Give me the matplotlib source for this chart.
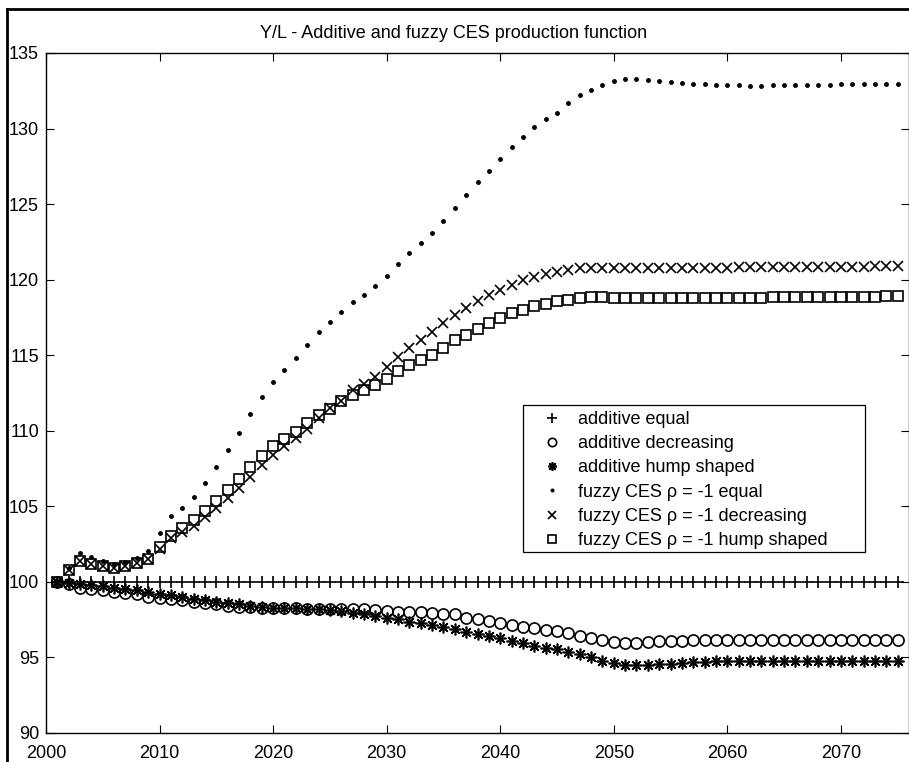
import numpy as np
import matplotlib
matplotlib.use("Agg")
import matplotlib.pyplot as plt
from matplotlib.lines import Line2D
from matplotlib.patches import Rectangle

plt.rcParams['font.family'] = ['Liberation Sans', 'DejaVu Sans']

years = list(range(2001, 2076))

# additive equal
add_equal = [100.0] * 75

# additive decreasing
add_decr = [100.0, 99.85, 99.62, 99.56, 99.45, 99.34, 99.29, 99.2, 99.03, 98.96,
            98.9, 98.8, 98.68, 98.59, 98.52, 98.41, 98.37, 98.34, 98.3, 98.3,
            98.26, 98.26, 98.23, 98.23, 98.23, 98.23, 98.19, 98.19, 98.15, 98.08,
            98.04, 98.04, 98.01, 97.97, 97.9, 97.86, 97.64, 97.53, 97.42, 97.31,
            97.15, 97.02, 96.93, 96.82, 96.75, 96.6, 96.42, 96.27, 96.14, 96.05,
            95.98, 95.98, 96.03, 96.07, 96.09, 96.11, 96.14, 96.16, 96.16, 96.16,
            96.16, 96.16, 96.16, 96.16, 96.16, 96.16, 96.16, 96.16, 96.16, 96.16,
            96.16, 96.16, 96.16, 96.16, 96.16]

# additive hump shaped
add_hump = [100.0, 99.91, 99.85, 99.8, 99.73, 99.62, 99.56, 99.45, 99.34, 99.23,
            99.12, 99.0, 98.9, 98.8, 98.68, 98.63, 98.52, 98.41, 98.37, 98.3,
            98.26, 98.26, 98.23, 98.23, 98.15, 98.08, 97.97, 97.86, 97.75, 97.64,
            97.53, 97.37, 97.31, 97.15, 97.02, 96.87, 96.69, 96.53, 96.42, 96.27,
            96.09, 95.98, 95.76, 95.65, 95.54, 95.36, 95.21, 95.05, 94.77, 94.61,
            94.53, 94.48, 94.53, 94.57, 94.59, 94.64, 94.68, 94.72, 94.75, 94.77,
            94.77, 94.78, 94.78, 94.78, 94.78, 94.78, 94.78, 94.78, 94.78, 94.78,
            94.78, 94.78, 94.78, 94.78, 94.78]

# fuzzy CES rho=-1 equal
ces_equal = [100.0, 100.9, 101.9, 101.64, 101.4, 101.2, 101.3, 101.6, 102.07, 103.23,
             104.33, 104.92, 105.63, 106.56, 107.6, 108.7, 109.87, 111.11, 112.23, 113.22,
             114.04, 114.81, 115.65, 116.51, 117.17, 117.84, 118.5, 119.0, 119.56, 120.22,
             121.06, 121.79, 122.4, 123.07, 123.86, 124.75, 125.63, 126.45, 127.22, 128.0,
             128.76, 129.47, 130.07, 130.6, 131.06, 131.66, 132.19, 132.58, 132.91, 133.18,
             133.25, 133.25, 133.2, 133.13, 133.09, 133.02, 132.98, 132.93, 132.89, 132.85,
             132.85, 132.83, 132.83, 132.85, 132.85, 132.87, 132.87, 132.89, 132.91, 132.93,
             132.93, 132.96, 132.98, 132.98, 132.98]

# fuzzy CES rho=-1 decreasing
ces_decr = [100.0, 100.8, 101.35, 101.17, 101.06, 100.95, 101.08, 101.26, 101.52, 102.19,
            102.93, 103.33, 103.73, 104.28, 104.88, 105.54, 106.2, 106.97, 107.75, 108.41,
            108.96, 109.52, 110.13, 110.84, 111.5, 111.94, 112.67, 113.11, 113.56, 114.19,
            114.85, 115.48, 115.98, 116.54, 117.13, 117.68, 118.13, 118.56, 118.96, 119.3,
            119.62, 120.0, 120.17, 120.37, 120.48, 120.62, 120.77, 120.77, 120.77, 120.77,
            120.77, 120.77, 120.77, 120.77, 120.77, 120.77, 120.78, 120.79, 120.8, 120.8,
            120.81, 120.82, 120.82, 120.83, 120.84, 120.84, 120.85, 120.85, 120.86, 120.86,
            120.87, 120.87, 120.88, 120.88, 120.88]

# fuzzy CES rho=-1 hump shaped
ces_hump = [100.0, 100.8, 101.35, 101.17, 101.06, 100.95, 101.08, 101.26, 101.52, 102.34,
            103.05, 103.56, 104.1, 104.66, 105.36, 106.05, 106.8, 107.57, 108.3, 108.96,
            109.45, 109.93, 110.51, 111.06, 111.46, 111.94, 112.38, 112.72, 113.05, 113.42,
            113.93, 114.37, 114.7, 115.03, 115.48, 115.98, 116.36, 116.73, 117.13, 117.46,
            117.79, 118.01, 118.28, 118.39, 118.56, 118.68, 118.79, 118.85, 118.85, 118.79,
            118.79, 118.79, 118.79, 118.79, 118.79, 118.79, 118.79, 118.79, 118.79, 118.79,
            118.8, 118.8, 118.81, 118.82, 118.82, 118.83, 118.84, 118.85, 118.85, 118.86,
            118.87, 118.87, 118.88, 118.89, 118.89]

labels = ['additive equal', 'additive decreasing', 'additive hump shaped',
          'fuzzy CES \u03c1 = -1 equal', 'fuzzy CES \u03c1 = -1 decreasing',
          'fuzzy CES \u03c1 = -1 hump shaped']

fig = plt.figure(figsize=(9.09, 7.62), dpi=100)
ax = fig.add_axes([46/909, 1 - 733/762, 863/909, 680/762])

k = dict(linestyle='none', color='k', markerfacecolor='none', markeredgewidth=1.2)
ax.plot(years, add_equal, marker='+', markersize=9, label=labels[0], **k)
ax.plot(years, add_decr, marker='o', markersize=8, label=labels[1], **k)
ax.plot(years, add_hump, marker=(8, 2, 0), markersize=8.5, label=labels[2], **k)
ax.plot(years, ces_equal, linestyle='none', marker='o', markersize=2.5, color='k',
        label=labels[3])
ax.plot(years, ces_decr, marker='x', markersize=7, label=labels[4], **k)
ax.plot(years, ces_hump, marker='s', markersize=7, label=labels[5], **k)

ax.set_xlim(2000, 2076)
ax.set_ylim(90, 135)
ax.set_xticks(range(2000, 2071, 10))
ax.set_yticks(range(90, 136, 5))
ax.tick_params(direction='in', length=6, width=0.8, top=True, right=True,
               labelsize=13, pad=5)
ax.tick_params(axis='x', pad=9)
for s in ax.spines.values():
    s.set_linewidth(1.0)

fig.text(454 / 909, 1 - 33 / 762, 'Y/L - Additive and fuzzy CES production function',
         fontsize=13, ha='center', va='center')

# legend box drawn by hand, entries placed inside
ax.add_patch(Rectangle((0.5527, 0.2662), 0.949 - 0.5527, 0.4824 - 0.2662,
                       transform=ax.transAxes, facecolor='white', edgecolor='k',
                       linewidth=0.9, zorder=4))
leg = ax.legend(loc='upper left', bbox_to_anchor=(0.5759, 0.4735), borderaxespad=0,
                fontsize=13, frameon=False, numpoints=1, markerscale=0.75,
                handlelength=1.0, handletextpad=0.95, labelspacing=0.4, borderpad=0)
leg.set_zorder(5)

# frame around the figure
fig.add_artist(Line2D([7/909, 1], [1 - 9/762, 1 - 9/762], color='k', linewidth=2,
                      transform=fig.transFigure))
fig.add_artist(Line2D([7/909, 7/909], [0, 1 - 9/762], color='k', linewidth=2,
                      transform=fig.transFigure))

fig.savefig('out.png', dpi=100)
